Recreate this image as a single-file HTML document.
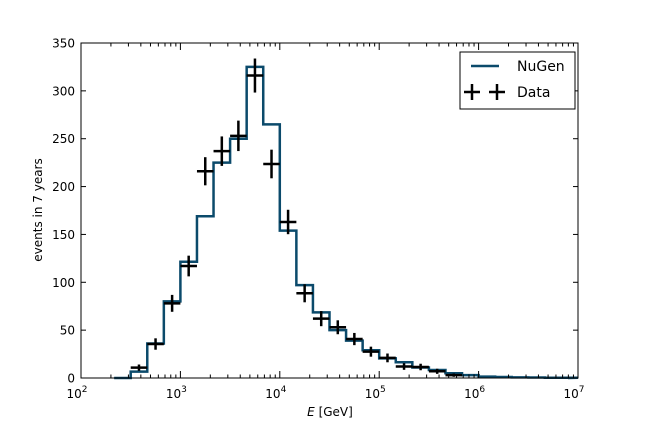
<!DOCTYPE html>
<html><head><meta charset="utf-8"><style>body{margin:0;background:#fff}svg{display:block}text{font-family:"DejaVu Sans","Liberation Sans",sans-serif;fill:#000}</style></head>
<body>
<svg id="s" width="648" height="432" xmlns="http://www.w3.org/2000/svg"></svg>
<script>
const L=81,R=578,T=43,B=378,dec=(R-L)/5;
const X=v=>L+(v-2)*dec, Y=v=>B-v*(B-T)/350;
let h='<rect x="0" y="0" width="648" height="432" fill="#fff"/>';
// histogram
const mc=[0,6.6,36,80,121.5,169,225,250,325,265,154,97,68.6,50,39,29,20.5,16.4,11,8.4,5,3,1.5,1,0.7,0.5,0.3,0.2];
let p=`M${X(2+2/6)},${Y(0)}`;
mc.forEach((v,i)=>{const k=i+2;p+=` L${X(2+k/6)},${Y(v)} L${X(2+(k+1)/6)},${Y(v)}`;});
p+=` L568,${Y(0)}`;
h+=`<path d="${p}" fill="none" stroke="#0b4a6b" stroke-width="2.5"/>`;
// data
const dt=[[3,10.8],[4,35.5],[5,78],[6,117],[7,216],[8,237],[9,253],[10,316],[11,223.6],[12,163],[13,88.5],[14,62],[15,53],[16,40.7],[17,27.5],[18,21],[19,12],[20,11.5],[21,7],[22,3]];
dt.forEach(([k,v])=>{const x0=X(2+k/6),x1=X(2+(k+1)/6),xc=(x0+x1)/2,e=Math.sqrt(v);
h+=`<line x1="${x0}" x2="${x1}" y1="${Y(v)}" y2="${Y(v)}" stroke="#000" stroke-width="2.5"/>`;
h+=`<line x1="${xc}" x2="${xc}" y1="${Y(v-e)}" y2="${Y(v+e)}" stroke="#000" stroke-width="2.5"/>`;});
// axes frame
h+=`<rect x="${L}" y="${T}" width="${R-L}" height="${B-T}" fill="none" stroke="#000" stroke-width="1"/>`;
// y ticks
for(let v=0;v<=350;v+=50){const y=Y(v);h+=`<line x1="${L}" x2="${L+5}" y1="${y}" y2="${y}" stroke="#000"/><line x1="${R}" x2="${R-5}" y1="${y}" y2="${y}" stroke="#000"/><text x="${L-6}" y="${y+4.5}" font-size="12" text-anchor="end">${v}</text>`;}
// x ticks
for(let d=2;d<=7;d++){const x=X(d);h+=`<line x1="${x}" x2="${x}" y1="${B}" y2="${B-7}" stroke="#000"/><line x1="${x}" x2="${x}" y1="${T}" y2="${T+7}" stroke="#000"/><text x="${x-4}" y="${B+20}" font-size="12" text-anchor="middle">10<tspan font-size="9" dy="-6">${d}</tspan></text>`;
if(d<7)for(let m=2;m<10;m++){const xm=X(d+Math.log10(m));h+=`<line x1="${xm}" x2="${xm}" y1="${B}" y2="${B-3.5}" stroke="#000"/><line x1="${xm}" x2="${xm}" y1="${T}" y2="${T+3.5}" stroke="#000"/>`;}}
h+=`<text x="330" y="416" font-size="12" text-anchor="middle"><tspan font-style="italic">E</tspan>  [GeV]</text>`;
h+=`<text transform="translate(42,210) rotate(-90)" font-size="12" text-anchor="middle">events in 7 years</text>`;
// legend
h+=`<rect x="460" y="52" width="115" height="57" fill="#fff" stroke="#000"/>`;
h+=`<line x1="471" x2="499" y1="66" y2="66" stroke="#0b4a6b" stroke-width="2.5"/><text x="517" y="71" font-size="14">NuGen</text>`;
[472,497].forEach(c=>{h+=`<line x1="${c-8}" x2="${c+8}" y1="92" y2="92" stroke="#000" stroke-width="2.5"/><line x1="${c}" x2="${c}" y1="84" y2="100" stroke="#000" stroke-width="2.5"/>`;});
h+=`<text x="517" y="97" font-size="14">Data</text>`;
document.getElementById('s').innerHTML=h;
</script>
</body></html>
